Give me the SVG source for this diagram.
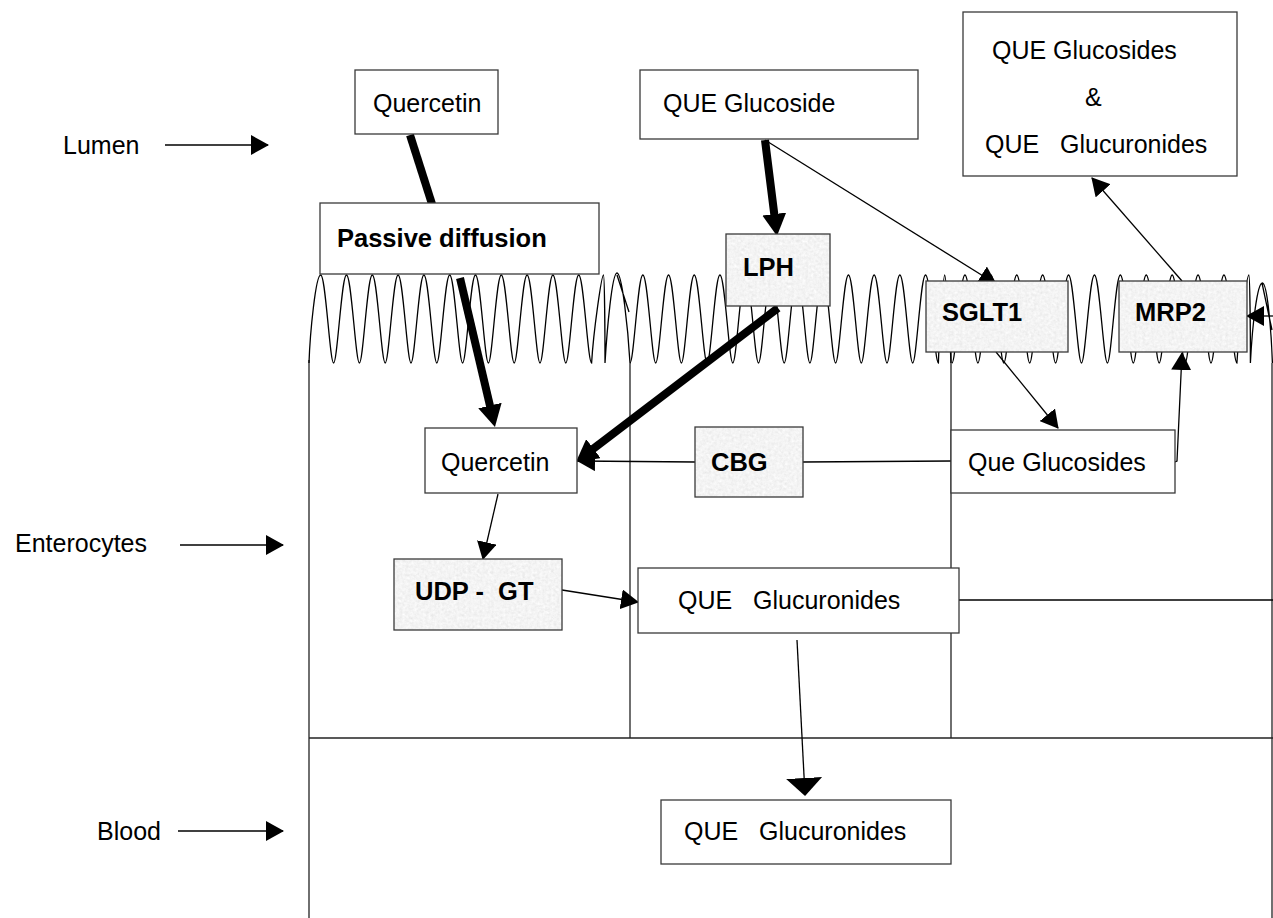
<svg xmlns="http://www.w3.org/2000/svg" width="1273" height="918" viewBox="0 0 1273 918">
<style>
.t{font-family:"Liberation Sans",Arial,Helvetica,sans-serif;font-size:25px;fill:#000;white-space:pre}
.b{font-weight:bold;font-size:25.5px}
.box{fill:#fff;stroke:#3a3a3a;stroke-width:1.3}
.gbox{fill:none;stroke:#3a3a3a;stroke-width:1.3}
.tex{fill:#e6e6e6;filter:url(#tex)}
.ln{fill:none;stroke:#000;stroke-width:1.3}
.th{fill:none;stroke:#000;stroke-width:8}
.vil{fill:none;stroke:#000;stroke-width:1.3}
.cell{fill:none;stroke:#222;stroke-width:1.3}
</style>
<defs>
<filter id="tex" x="0" y="0" width="1" height="1">
<feTurbulence type="fractalNoise" baseFrequency="0.35" numOctaves="3" seed="3" result="n"/>
<feColorMatrix in="n" type="matrix" values="0.12 0.12 0.12 0 0.72 0.12 0.12 0.12 0 0.72 0.12 0.12 0.12 0 0.72 0 0 0 0 1" result="g"/>
<feComposite in="g" in2="SourceGraphic" operator="in"/>
</filter>
<marker id="ah" viewBox="0 0 18 20" refX="17" refY="10" markerWidth="18" markerHeight="20" markerUnits="userSpaceOnUse" orient="auto"><path d="M0,0 L18,10 L0,20 z" fill="#000"/></marker>
<marker id="ahT" viewBox="0 0 22 24" refX="6" refY="12" markerWidth="22" markerHeight="24" markerUnits="userSpaceOnUse" orient="auto"><path d="M0,0 L22,12 L0,24 z" fill="#000"/></marker>
<marker id="ahB" viewBox="0 0 18 36" refX="17" refY="18" markerWidth="18" markerHeight="36" markerUnits="userSpaceOnUse" orient="auto"><path d="M0,0 L18,18 L0,36 z" fill="#000"/></marker>
</defs>
<rect width="1273" height="918" fill="#fff"/>

<g id="structure">
<line class="cell" x1="309" y1="360" x2="309" y2="918"/>
<line class="cell" x1="1272" y1="363" x2="1272" y2="918"/>
<line class="cell" x1="630" y1="363" x2="630" y2="738"/>
<line class="cell" x1="951" y1="352" x2="951" y2="738"/>
<line class="cell" x1="309" y1="738" x2="1273" y2="738"/>
<path class="vil" d="M309,363 c1,-30 6.7,-88 11.7,-88 c5,0 9.1,88 12.9,88 c3.8,0 7.9,-88 12.9,-88 c5,0 9.1,88 12.9,88 c3.8,0 7.9,-88 12.9,-88 c5,0 9.1,88 12.9,88 c3.8,0 7.9,-88 12.9,-88 c5,0 9.1,88 12.9,88 c3.8,0 7.9,-88 12.9,-88 c5,0 9.1,88 12.9,88 c3.8,0 7.9,-88 12.9,-88 c5,0 9.1,88 12.9,88 c3.8,0 7.9,-88 12.9,-88 c5,0 9.1,88 12.9,88 c3.8,0 7.9,-88 12.9,-88 c5,0 9.1,88 12.9,88 c3.8,0 7.9,-88 12.9,-88 c5,0 9.1,88 12.9,88 c3.8,0 7.9,-88 12.9,-88 c5,0 9.1,88 12.9,88 c3.8,0 7.9,-88 12.9,-88 c5,0 9.1,88 12.9,88 c2,-33 10,-88 11.9,-88 c1,0 1.5,60 1.5,88 c2,-33 7,-90 12,-90 c5,0 11,55 13,90 M617,275 L629,312"/>
<path class="vil" d="M630,363 c3.8,0 7.85,-88 12.85,-88 c5,0 9.05,88 12.85,88 c3.8,0 7.85,-88 12.85,-88 c5,0 9.05,88 12.85,88 c3.8,0 7.85,-88 12.85,-88 c5,0 9.05,88 12.85,88 c3.8,0 7.85,-88 12.85,-88 c5,0 9.05,88 12.85,88 c3.8,0 7.85,-88 12.85,-88 c5,0 9.05,88 12.85,88 c3.8,0 7.85,-88 12.85,-88 c5,0 9.05,88 12.85,88 c3.8,0 7.85,-88 12.85,-88 c5,0 9.05,88 12.85,88 c3.8,0 7.85,-88 12.85,-88 c5,0 9.05,88 12.85,88 c3.8,0 7.85,-88 12.85,-88 c5,0 9.05,88 12.85,88 c3.8,0 7.85,-88 12.85,-88 c5,0 9.05,88 12.85,88 c3.8,0 7.85,-88 12.85,-88 c5,0 9.05,88 12.85,88 c3.8,0 7.85,-88 12.85,-88 c5,0 9.05,88 12.85,88 c1,-33 5,-88 6.3,-88 c1.3,0 5,55 6.3,88"/>
<path class="vil" d="M952,363 c3.8,0 7.95,-88 12.95,-88 c5,0 9.15,88 12.95,88 c3.8,0 7.95,-88 12.95,-88 c5,0 9.15,88 12.95,88 c3.8,0 7.95,-88 12.95,-88 c5,0 9.15,88 12.95,88 c3.8,0 7.95,-88 12.95,-88 c5,0 9.15,88 12.95,88 c3.8,0 7.95,-88 12.95,-88 c5,0 9.15,88 12.95,88 c3.8,0 7.95,-88 12.95,-88 c5,0 9.15,88 12.95,88 c3.8,0 7.95,-88 12.95,-88 c5,0 9.15,88 12.95,88 c3.8,0 7.95,-88 12.95,-88 c5,0 9.15,88 12.95,88 c3.8,0 7.95,-88 12.95,-88 c5,0 9.15,88 12.95,88 c3.8,0 7.95,-88 12.95,-88 c5,0 9.15,88 12.95,88 c3.8,0 7.95,-88 12.95,-88 c5,0 9.15,88 12.95,88 c2,-33 10,-88 12,-88 c1,0 1.5,60 1.5,88 c2,-40 7,-80 12,-80 c5,0 9,50 10,80 M1262,283 L1272,330"/>
</g>

<g id="connectors">
<line class="ln" x1="165" y1="145" x2="268" y2="145" marker-end="url(#ah)"/>
<line class="ln" x1="180" y1="545" x2="283" y2="545" marker-end="url(#ah)"/>
<line class="ln" x1="178" y1="831" x2="283" y2="831" marker-end="url(#ah)"/>
<line class="th" x1="410" y1="135" x2="432" y2="204"/>
<line class="th" x1="460" y1="278" x2="491.3" y2="411.4" marker-end="url(#ahT)"/>
<line class="th" x1="765" y1="140" x2="775" y2="220" marker-end="url(#ahT)"/>
<line class="th" x1="778" y1="308" x2="588.7" y2="452.3" marker-end="url(#ahT)"/>
<line class="ln" x1="765" y1="140" x2="996" y2="284" marker-end="url(#ah)"/>
<line class="ln" x1="996" y1="352" x2="1058" y2="428" marker-end="url(#ah)"/>
<polyline class="ln" points="1175,462 1177,461 1182,353" marker-end="url(#ah)"/>
<line class="ln" x1="1182" y1="281" x2="1092" y2="178" marker-end="url(#ah)"/>
<line class="ln" x1="1273" y1="316" x2="1247" y2="316" marker-end="url(#ah)"/>
<line class="ln" x1="695" y1="462" x2="578" y2="461" marker-end="url(#ah)"/>
<line class="ln" x1="803" y1="462" x2="951" y2="461"/>
<line class="ln" x1="498" y1="494" x2="483" y2="559" marker-end="url(#ah)"/>
<line class="ln" x1="562" y1="590" x2="638" y2="602" marker-end="url(#ah)"/>
<line class="ln" x1="797" y1="640" x2="805" y2="795" marker-end="url(#ahB)"/>
<line class="ln" x1="959" y1="600" x2="1273" y2="600"/>
</g>

<g id="labels">
<text class="t" x="63" y="154">Lumen</text>
<text class="t" x="15" y="552">Enterocytes</text>
<text class="t" x="97" y="840">Blood</text>
</g>

<g id="quercetin-lumen"><rect class="box" x="355" y="70" width="143" height="64"/><text class="t" x="373" y="112">Quercetin</text></g>
<g id="que-glucoside"><rect class="box" x="640" y="70" width="278" height="69"/><text class="t" x="663" y="112">QUE Glucoside</text></g>
<g id="que-out"><rect class="box" x="963" y="12" width="274" height="164"/><text class="t" x="992" y="59">QUE Glucosides</text><text class="t" x="1085" y="106">&amp;</text><text class="t" x="985" y="153">QUE   Glucuronides</text></g>
<g id="passive"><rect class="box" x="320" y="203" width="279" height="71"/><text class="t b" x="337" y="247">Passive diffusion</text></g>
<g id="lph"><rect class="tex" x="726" y="234" width="104" height="72"/><rect class="gbox" x="726" y="234" width="104" height="72"/><text class="t b" x="743" y="276">LPH</text></g>
<g id="sglt1"><rect class="tex" x="926" y="281" width="142" height="71"/><rect class="gbox" x="926" y="281" width="142" height="71"/><text class="t b" x="942" y="321">SGLT1</text></g>
<g id="mrp2"><rect class="tex" x="1119" y="281" width="128" height="71"/><rect class="gbox" x="1119" y="281" width="128" height="71"/><text class="t b" x="1135" y="321">MRP2</text></g>
<g id="quercetin-cell"><rect class="box" x="425" y="428" width="152" height="65"/><text class="t" x="441" y="471">Quercetin</text></g>
<g id="cbg"><rect class="tex" x="695" y="427" width="108" height="70"/><rect class="gbox" x="695" y="427" width="108" height="70"/><text class="t b" x="711" y="471">CBG</text></g>
<g id="que-glucosides-cell"><rect class="box" x="951" y="430" width="224" height="63"/><text class="t" x="968" y="471">Que Glucosides</text></g>
<g id="udp-gt"><rect class="tex" x="394" y="559" width="168" height="71"/><rect class="gbox" x="394" y="559" width="168" height="71"/><text class="t b" x="415" y="600">UDP -  GT</text></g>
<g id="que-glucuronides-cell"><rect class="box" x="638" y="568" width="321" height="65"/><text class="t" x="678" y="609">QUE   Glucuronides</text></g>
<g id="que-glucuronides-blood"><rect class="box" x="661" y="800" width="290" height="64"/><text class="t" x="684" y="840">QUE   Glucuronides</text></g>
</svg>
